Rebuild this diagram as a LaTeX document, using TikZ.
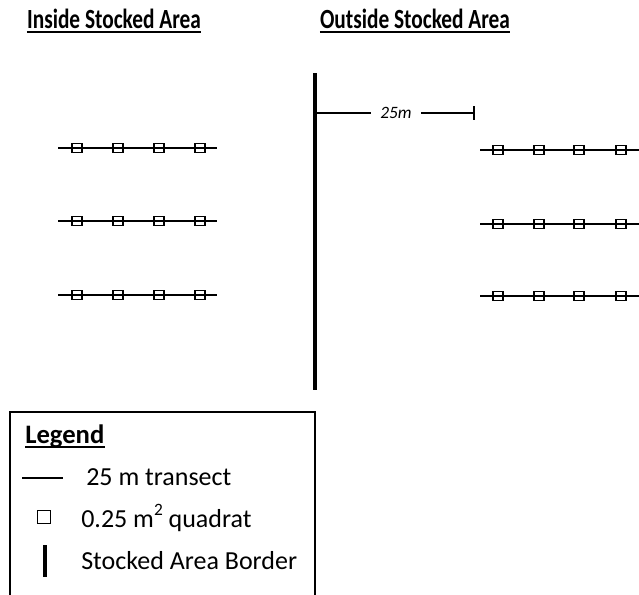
\documentclass[tikz,border=0pt]{standalone}
\usepackage{fontspec}
\setmainfont{Carlito}
\begin{document}
\begin{tikzpicture}[x=0.75pt,y=-0.75pt,
  heading/.style={font=\bfseries\fontsize{16}{18}\selectfont,inner sep=0pt,anchor=base},
  legtext/.style={font=\fontsize{19.5}{22}\selectfont,inner sep=0pt,anchor=base west},
  transect/.style={line width=1.9pt},
  quadrat/.style={draw,line width=1.1pt,minimum width=7.5pt,minimum height=6.8pt,inner sep=0pt},
  border/.style={line width=3pt},
  dimline/.style={line width=1.1pt}]
\useasboundingbox (0,0) rectangle (639,594);
\clip (0,0) rectangle (639,594);

% headings with underline
\node[heading] (hin) at (114,28) {\scalebox{1}[1.3]{Inside Stocked Area}};
\draw[line width=1.6pt] ([yshift=-3pt]hin.base west) -- ([yshift=-3pt]hin.base east);
\node[heading] (hout) at (415,28) {\scalebox{1}[1.3]{Outside Stocked Area}};
\draw[line width=1.6pt] ([yshift=-3pt]hout.base west) -- ([yshift=-3pt]hout.base east);

% stocked area border
\coordinate (btop) at (315,73);
\coordinate (bbot) at (315,390);
\draw[border] (btop) -- (bbot);

% 25 m distance marker
\coordinate (dl) at (316,113);
\coordinate (dr) at (474,113);
\node[font=\itshape\fontsize{13}{15}\selectfont,inner sep=0pt] (dlab) at (396,113) {25m};
\draw[dimline] (dl) -- ([xshift=-7pt]dlab.west);
\draw[dimline] ([xshift=7pt]dlab.east) -- (dr);
\draw[dimline] ([yshift=-5pt]dr) -- ([yshift=5pt]dr);
\draw[line width=2pt] ([yshift=-5pt]dl) -- ([yshift=5pt]dl);

% transects inside the stocked area
\foreach \r/\y in {1/148,2/221,3/295}{
  \coordinate (il\r) at (58,\y);
  \coordinate (ir\r) at (217,\y);
  \draw[transect] (il\r) -- (ir\r);
  \foreach \i/\x in {1/77,2/118,3/159,4/200}
    \node[quadrat] (iq\r\i) at (\x,\y) {};
}

% transects outside the stocked area
\foreach \r/\y in {1/150,2/224,3/296}{
  \coordinate (ol\r) at (480,\y);
  \coordinate (or\r) at (645,\y);
  \draw[transect] (ol\r) -- (or\r);
  \foreach \i/\x in {1/498,2/539,3/579,4/621}
    \node[quadrat] (oq\r\i) at (\x,\y) {};
}

% legend
\draw[line width=1.2pt] (10,412) rectangle (315,610);
\node[font=\bfseries\fontsize{20}{22}\selectfont,inner sep=0pt,anchor=base west] (lt) at (25,443) {Legend};
\draw[line width=1.4pt] ([yshift=-3pt]lt.base west) -- ([yshift=-3pt]lt.base east);

\coordinate (ls1) at (22,478);
\coordinate (ls2) at (63,478);
\draw[transect] (ls1) -- (ls2);
\node[legtext] (lx1) at (86,485) {25 m transect};

\node[draw,line width=1.1pt,minimum size=9.5pt,inner sep=0pt] (lq) at (44,517) {};
\node[legtext] (lx2) at (81,527) {0.25 m\raisebox{0.45em}{\fontsize{13}{14}\selectfont 2} quadrat};

\coordinate (lb1) at (45,545);
\coordinate (lb2) at (45,577);
\draw[border] (lb1) -- (lb2);
\node[legtext] (lx3) at (81,569) {Stocked Area Border};
\end{tikzpicture}
\end{document}
